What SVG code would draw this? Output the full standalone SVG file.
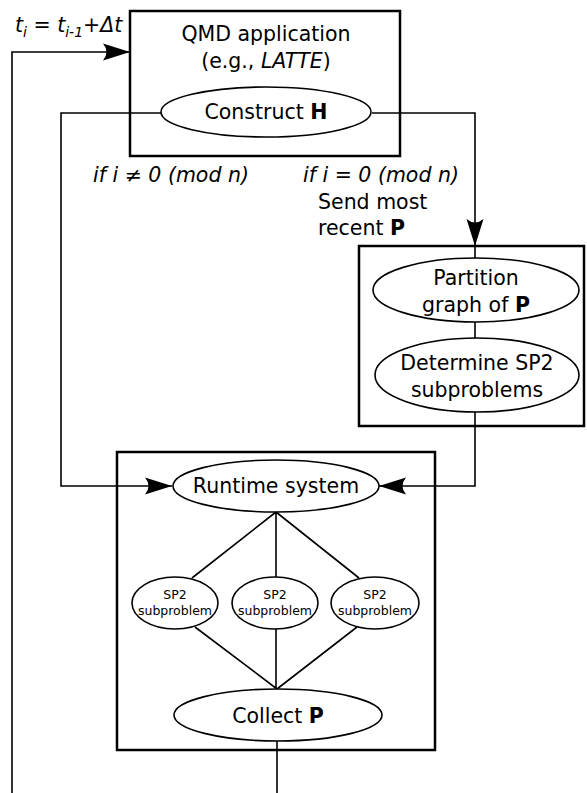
<svg xmlns="http://www.w3.org/2000/svg" width="587" height="793" viewBox="0 0 587 793">
<style>
text{font-family:"DejaVu Sans","Liberation Sans",sans-serif;font-size:20.5px;fill:#000;text-anchor:middle}
.l{text-anchor:start}
.i{font-style:italic}
.b{font-weight:bold}
.s{font-size:12.5px}
.box{fill:none;stroke:#000;stroke-width:2.5}
.el{fill:#fff;stroke:#000;stroke-width:1.6}
.c{fill:none;stroke:#000;stroke-width:1.6}
.a{marker-end:url(#ah)}
</style>
<defs>
<marker id="ah" markerUnits="userSpaceOnUse" markerWidth="30" markerHeight="20" viewBox="-28 -10 30 20" refX="0" refY="0" orient="auto">
<path d="M0,0 L-27,-8.5 Q-20,0 -27,8.5 Z" fill="#000"/>
</marker>
</defs>
<g id="connectors">
<path class="c a" d="M12,793 V52 H130"/>
<path class="c a" d="M161,113 H61 V486 H172"/>
<path class="c a" d="M372,113 H475 V246"/>
<path class="c" d="M475,246 V426"/>
<path class="c a" d="M475,426 V486 H379"/>
<path class="c" d="M276,512 L192,578 M276,512 V577 M276,512 L359,578"/>
<path class="c" d="M195,627 L277,689 M276,629 V689 M357,627 L277,689"/>
<path class="c" d="M277,740 V793"/>
</g>
<g id="label-time">
<text class="l" x="15" y="32"><tspan class="i">t</tspan><tspan class="i" font-size="14" dy="5">i</tspan><tspan dy="-5"> = </tspan><tspan class="i">t</tspan><tspan class="i" font-size="14" dy="5">i-1</tspan><tspan dy="-5">+</tspan><tspan class="i">Δt</tspan></text>
</g>
<g id="qmd">
<rect class="box" x="130" y="11" width="270" height="145"/>
<text x="266" y="41">QMD application</text>
<text x="266" y="68">(e.g., <tspan class="i">LATTE</tspan>)</text>
</g>
<g id="construct">
<ellipse class="el" cx="266" cy="112" rx="105" ry="25"/>
<text x="266" y="119">Construct <tspan class="b">H</tspan></text>
</g>
<g id="labels">
<text class="l i" x="93" y="182">if i ≠ 0 (mod n)</text>
<text class="l i" x="303" y="182">if i = 0 (mod n)</text>
<text class="l" x="318" y="209">Send most</text>
<text class="l" x="318" y="235">recent <tspan class="b">P</tspan></text>
</g>
<g id="partition-box">
<rect class="box" x="359" y="246" width="225" height="180"/>
</g>
<g id="partition">
<ellipse class="el" cx="476" cy="290" rx="103" ry="32"/>
<text x="476" y="285">Partition</text>
<text x="476" y="312">graph of <tspan class="b">P</tspan></text>
</g>
<g id="determine">
<ellipse class="el" cx="477" cy="375" rx="102" ry="37"/>
<text x="477" y="370">Determine SP2</text>
<text x="477" y="397">subproblems</text>
</g>
<g id="runtime-box">
<rect class="box" x="117" y="452" width="318" height="298"/>
</g>
<g id="runtime">
<ellipse class="el" cx="276" cy="486" rx="103" ry="26"/>
<text x="276" y="493">Runtime system</text>
</g>
<g id="sp2-1">
<ellipse class="el" cx="175" cy="603" rx="43" ry="26"/>
<text class="s" x="175" y="599">SP2</text>
<text class="s" x="175" y="615">subproblem</text>
</g>
<g id="sp2-2">
<ellipse class="el" cx="275" cy="603" rx="43" ry="26"/>
<text class="s" x="275" y="599">SP2</text>
<text class="s" x="275" y="615">subproblem</text>
</g>
<g id="sp2-3">
<ellipse class="el" cx="375" cy="603" rx="44" ry="26"/>
<text class="s" x="375" y="599">SP2</text>
<text class="s" x="375" y="615">subproblem</text>
</g>
<g id="collect">
<ellipse class="el" cx="278" cy="715" rx="104" ry="26"/>
<text x="278" y="723">Collect <tspan class="b">P</tspan></text>
</g>
</svg>
